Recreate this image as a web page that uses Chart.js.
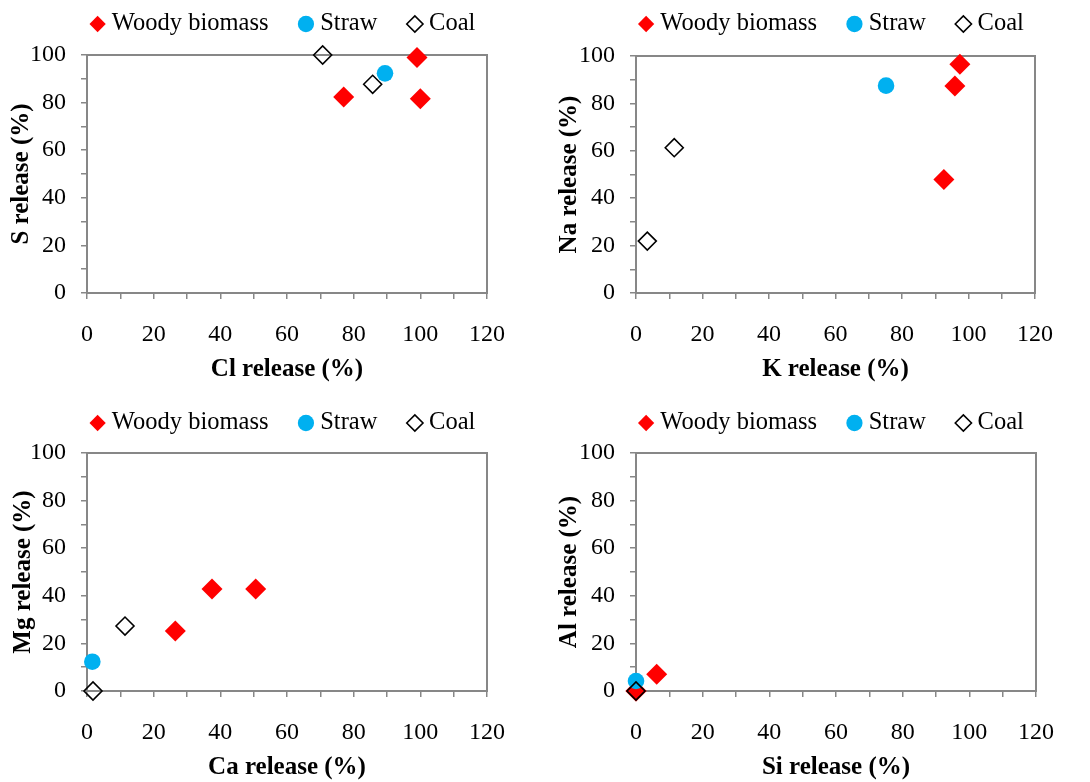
<!DOCTYPE html>
<html>
<head>
<meta charset="utf-8">
<title>Element release</title>
<script src="https://cdn.jsdelivr.net/npm/chart.js@4.4.1/dist/chart.umd.min.js"></script>
<style>
  body { margin: 0; background: #fff; }
  canvas { position: absolute; }
</style>
</head>
<body>
<canvas id="clS" width="545" height="391" style="left:0;top:0"></canvas>
<canvas id="kNa" width="545" height="391" style="left:545px;top:0"></canvas>
<canvas id="caMg" width="545" height="391" style="left:0;top:391px"></canvas>
<canvas id="siAl" width="545" height="391" style="left:545px;top:391px"></canvas>
<script>
const seriesNames = ["Woody biomass", "Straw", "Coal"];
const xTickLabels = [0, 20, 40, 60, 80, 100, 120];
const yTickLabels = [0, 20, 40, 60, 80, 100];

// Cl / S
const woodyCl = [77, 99, 100];
const woodyS = [82.4, 98.9, 81.6];
const strawCl = [89.4];
const strawS = [92.3];
const coalCl = [70.7, 85.7];
const coalS = [100, 87.7];

// K / Na
const woodyK = [97.4, 95.9, 92.6];
const woodyNa = [96.5, 87.3, 47.9];
const strawK = [75.2];
const strawNa = [87.5];
const coalK = [11.5, 3.4];
const coalNa = [61.3, 21.9];

// Ca / Mg
const woodyCa = [26.5, 37.5, 50.6];
const woodyMg = [25.2, 42.9, 42.9];
const strawCa = [1.6];
const strawMg = [12.3];
const coalCa = [11.4, 1.8];
const coalMg = [27.3, 0];

// Si / Al
const woodySi = [6.2, 0, 0];
const woodyAl = [7.0, 0, 0];
const strawSi = [0];
const strawAl = [4.2];
const coalSi = [0];
const coalAl = [0];

const axisGray = "#878787";
const serif = "'Liberation Serif', 'Times New Roman', serif";
const W = 545, H = 391;
const legendPad = 35.5;
const legendFont = 24.5;

const zip = (xs, ys) => xs.map((x, i) => ({ x: x, y: ys[i] }));

function makePanel(id, xTitle, yTitle, xs, ys, box) {
  // box: plot edges, legend centre, title offsets (canvas pixels)
  const padRight = W - 2 * box.legendCenter;
  const padTop = box.legendY - legendPad - legendFont / 2;
  const legendHeight = legendFont + legendPad + 10;
  const xAxisHeight = 92;

  new Chart(document.getElementById(id), {
    type: "scatter",
    data: {
      datasets: [
        {
          label: seriesNames[0],
          data: zip(xs[0], ys[0]),
          pointStyle: "rectRot",
          pointRadius: 10.5,
          pointHoverRadius: 10.5,
          backgroundColor: "#ff0000",
          borderColor: "#ff0000",
          borderWidth: 0,
          order: 3,
          clip: false,
        },
        {
          label: seriesNames[1],
          data: zip(xs[1], ys[1]),
          pointStyle: "circle",
          pointRadius: 8.3,
          pointHoverRadius: 8.3,
          backgroundColor: "#00b0f0",
          borderColor: "#00b0f0",
          borderWidth: 0,
          order: 2,
          clip: false,
        },
        {
          label: seriesNames[2],
          data: zip(xs[2], ys[2]),
          pointStyle: "rectRot",
          pointRadius: 9,
          pointHoverRadius: 9,
          backgroundColor: "rgba(255,255,255,0)",
          borderColor: "#000",
          borderWidth: 1.6,
          order: 1,
          clip: false,
        },
      ],
    },
    options: {
      responsive: false,
      animation: false,
      devicePixelRatio: 1,
      layout: {
        padding: { left: 0, right: padRight, top: padTop, bottom: H - box.bottom - xAxisHeight },
      },
      plugins: {
        tooltip: { enabled: false },
        legend: {
          position: "top",
          labels: {
            usePointStyle: true,
            boxWidth: 4,
            boxHeight: 11.5,
            padding: legendPad,
            color: "#000",
            font: { family: serif, size: legendFont },
            sort: (a, b) => a.datasetIndex - b.datasetIndex,
          },
        },
      },
      scales: {
        x: {
          type: "linear",
          position: "bottom",
          min: 0,
          max: 120,
          ticks: {
            stepSize: 10,
            autoSkip: false,
            maxRotation: 0,
            padding: 21,
            color: "#000",
            font: { family: serif, size: 24 },
            callback: (v) => (xTickLabels.includes(v) ? v : ""),
          },
          grid: { drawOnChartArea: false, drawTicks: true, tickLength: 6, color: axisGray, lineWidth: 1.5 },
          border: { color: axisGray, width: 2 },
          title: {
            display: true,
            text: xTitle,
            color: "#000",
            font: { family: serif, size: 25, weight: "bold" },
            padding: { top: 0, bottom: 0 },
          },
          afterFit: (s) => { s.height = xAxisHeight; },
        },
        y: {
          type: "linear",
          position: "left",
          min: 0,
          max: 100,
          ticks: {
            stepSize: 10,
            autoSkip: false,
            padding: 15,
            color: "#000",
            font: { family: serif, size: 24 },
            callback: (v) => (yTickLabels.includes(v) ? v : ""),
          },
          grid: { drawOnChartArea: false, drawTicks: true, tickLength: 6, color: axisGray, lineWidth: 1.5 },
          border: { color: axisGray, width: 2 },
          title: {
            display: true,
            text: yTitle,
            color: "#000",
            font: { family: serif, size: 25, weight: "bold" },
            padding: { top: box.yTitleX - 15, bottom: 0 },
          },
          afterFit: (s) => { s.width = box.left; },
        },
        // top and right frame of the plot area
        xTop: {
          type: "linear",
          position: "top",
          ticks: { display: false },
          grid: { display: false },
          border: { color: axisGray, width: 2 },
          afterFit: (s) => { s.height = box.top - padTop - legendHeight; },
        },
        yRight: {
          type: "linear",
          position: "right",
          ticks: { display: false },
          grid: { display: false },
          border: { color: axisGray, width: 2 },
          afterFit: (s) => { s.width = W - padRight - box.right; },
        },
      },
    },
  });
}

makePanel("clS", "Cl release (%)", "S release (%)",
  [woodyCl, strawCl, coalCl], [woodyS, strawS, coalS],
  { left: 87, right: 487, top: 55, bottom: 293, legendY: 24, legendCenter: 285.5, yTitleX: 22 });

makePanel("kNa", "K release (%)", "Na release (%)",
  [woodyK, strawK, coalK], [woodyNa, strawNa, coalNa],
  { left: 91, right: 490, top: 56, bottom: 293, legendY: 24, legendCenter: 289, yTitleX: 25 });

makePanel("caMg", "Ca release (%)", "Mg release (%)",
  [woodyCa, strawCa, coalCa], [woodyMg, strawMg, coalMg],
  { left: 87, right: 487, top: 62, bottom: 300, legendY: 32, legendCenter: 285.5, yTitleX: 23.5 });

makePanel("siAl", "Si release (%)", "Al release (%)",
  [woodySi, strawSi, coalSi], [woodyAl, strawAl, coalAl],
  { left: 91, right: 491, top: 62, bottom: 300, legendY: 32, legendCenter: 289, yTitleX: 25 });
</script>
</body>
</html>
